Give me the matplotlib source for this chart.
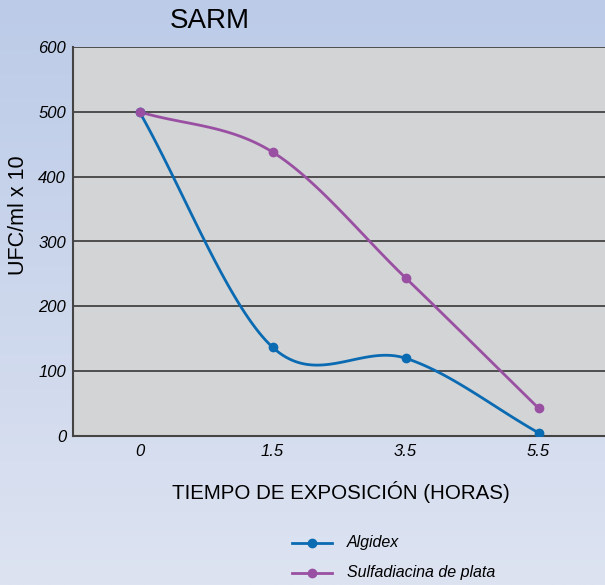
import matplotlib
matplotlib.use("Agg")
import matplotlib.pyplot as plt
import numpy as np

# datos
horas = ["0", "1.5", "3.5", "5.5"]
algidex = [500, 137, 120, 5]
sulfadiacina = [500, 438, 244, 43]
yticks = [0, 100, 200, 300, 400, 500, 600]

plt.rcParams['font.family'] = ['Liberation Sans', 'DejaVu Sans']


def catmull_rom(xs, ys, n=40):
    # curva suave que pasa por los puntos
    px = np.concatenate([[2 * xs[0] - xs[1]], xs, [2 * xs[-1] - xs[-2]]])
    py = np.concatenate([[2 * ys[0] - ys[1]], ys, [2 * ys[-1] - ys[-2]]])
    ox, oy = [], []
    t = np.linspace(0, 1, n)
    for i in range(1, len(px) - 2):
        for p, o in ((px, ox), (py, oy)):
            p0, p1, p2, p3 = p[i - 1], p[i], p[i + 1], p[i + 2]
            o.extend(0.5 * (2 * p1 + (-p0 + p2) * t
                            + (2 * p0 - 5 * p1 + 4 * p2 - p3) * t ** 2
                            + (-p0 + 3 * p1 - 3 * p2 + p3) * t ** 3))
    return np.array(ox), np.array(oy)


fig = plt.figure(figsize=(6.05, 5.85), dpi=100)

# fondo degradado
bg = fig.add_axes([0, 0, 1, 1], zorder=-10)
grad = np.linspace(0, 1, 256)[:, None, None]
top = np.array([188, 203, 232]) / 255
bot = np.array([221, 227, 241]) / 255
img = top * (1 - grad) + bot * grad
bg.imshow(np.repeat(img, 2, axis=1), aspect='auto', extent=[0, 1, 0, 1])
bg.axis('off')

ax = fig.add_axes([73 / 605, 149 / 585, 532 / 605, 389 / 585])
ax.set_facecolor('#d3d4d6')
x = np.arange(len(horas))

series = [(algidex, '#0a6ab2', 'Algidex'),
          (sulfadiacina, '#9a50a2', 'Sulfadiacina de plata')]
for vals, col, name in series:
    sx, sy = catmull_rom(x.astype(float), np.array(vals, dtype=float))
    ax.plot(sx, sy, color=col, lw=2, zorder=3)
    ax.plot(x, vals, 'o', color=col, ms=6, zorder=4)

ax.set_xlim(-0.5, 3.5)
ax.set_ylim(0, 600)
ax.set_yticks(yticks)
ax.set_yticklabels([str(v) for v in yticks], fontstyle='italic', fontsize=12)
ax.set_xticks(x)
ax.set_xticklabels(horas, fontstyle='italic', fontsize=12)
ax.tick_params(axis='x', length=0, pad=6)
ax.tick_params(axis='y', length=0, pad=5)
ax.yaxis.grid(True, color='#2a2a2a', lw=1.1)
ax.set_axisbelow(True)
for s in ['right', 'top']:
    ax.spines[s].set_visible(False)
for s in ['left', 'bottom']:
    ax.spines[s].set_color('#444444')
    ax.spines[s].set_linewidth(1.5)

fig.text(19 / 605, 1 - 215 / 585, 'UFC/ml x 10', rotation=90,
         ha='center', va='center', fontsize=15.5)
fig.text(341 / 605, 1 - 492 / 585, 'TIEMPO DE EXPOSICIÓN (HORAS)',
         ha='center', va='center', fontsize=14.8)
fig.text(210 / 605, 1 - 21 / 585, 'SARM', ha='center', va='center', fontsize=20)

# leyenda manual
for i, (vals, col, name) in enumerate(series):
    yy = 1 - (543 + 30 * i) / 585
    fig.add_artist(plt.Line2D([292 / 605, 332 / 605], [yy, yy], color=col, lw=2))
    fig.add_artist(plt.Line2D([312 / 605], [yy], marker='o', color=col, ms=6))
    fig.text(347 / 605, yy, name, va='center', fontsize=11.5, fontstyle='italic')

fig.savefig('out.png', dpi=100)
